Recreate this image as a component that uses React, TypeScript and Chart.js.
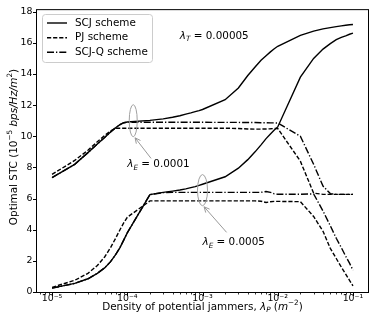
import React, { useEffect, useRef } from "react";
import { Chart, registerables } from "chart.js";

Chart.register(...registerables);

const FONT = '"DejaVu Sans", sans-serif';

// Density of potential jammers (lambda_P)
const densities = [
  1e-5, 2e-5, 3e-5, 4e-5, 5e-5, 6e-5, 7e-5, 8e-5, 9e-5,
  1e-4, 2e-4, 3e-4, 4e-4, 5e-4, 6e-4, 7e-4, 8e-4, 9e-4,
  1e-3, 2e-3, 3e-3, 4e-3, 5e-3, 6e-3, 7e-3, 8e-3, 9e-3,
  1e-2, 2e-2, 3e-2, 4e-2, 5e-2, 6e-2, 7e-2, 8e-2, 9e-2,
  1e-1,
];

// lambda_E = 0.0001
const scjE1 = [
  7.35, 8.2, 8.95, 9.5, 9.92, 10.27, 10.55, 10.75, 10.87,
  10.92, 11.02, 11.12, 11.22, 11.32, 11.42, 11.5, 11.58, 11.65,
  11.72, 12.35, 13.1, 13.9, 14.45, 14.88, 15.17, 15.42, 15.62,
  15.78, 16.48, 16.75, 16.9, 16.98, 17.04, 17.09, 17.13, 17.16,
  17.18,
];
const pjE1 = [
  7.55, 8.45, 9.1, 9.65, 10.05, 10.35, 10.52, 10.52, 10.52,
  10.52, 10.52, 10.52, 10.52, 10.52, 10.52, 10.52, 10.52, 10.52,
  10.52, 10.52, 10.5, 10.47, 10.46, 10.46, 10.47, 10.48, 10.5,
  10.5, 8.4, 6.35, 6.27, 6.27, 6.27, 6.27, 6.27, 6.27,
  6.27,
];
const scjqE1 = [
  7.35, 8.2, 8.95, 9.5, 9.92, 10.27, 10.55, 10.75, 10.87,
  10.9, 10.9, 10.9, 10.9, 10.9, 10.9, 10.9, 10.9, 10.9,
  10.9, 10.89, 10.89, 10.88, 10.88, 10.87, 10.87, 10.86, 10.86,
  10.85, 10.0, 8.2, 6.8, 6.32, 6.27, 6.27, 6.27, 6.27,
  6.27,
];

// lambda_E = 0.0005
const scjE5 = [
  0.25, 0.55, 0.85, 1.2, 1.55, 1.95, 2.4, 2.85, 3.35,
  3.8, 6.25, 6.4, 6.48, 6.55, 6.62, 6.7, 6.77, 6.85,
  6.92, 7.4, 7.95, 8.5, 9.0, 9.45, 9.85, 10.15, 10.4,
  10.6, 13.8, 15.0, 15.6, 15.95, 16.2, 16.35, 16.45, 16.55,
  16.62,
];
const pjE5 = [
  0.3, 0.75, 1.2, 1.7, 2.25, 2.85, 3.45, 4.0, 4.45,
  4.8, 5.85, 5.85, 5.85, 5.85, 5.85, 5.85, 5.85, 5.85,
  5.85, 5.85, 5.85, 5.85, 5.85, 5.83, 5.75, 5.8, 5.82,
  5.82, 5.8, 4.85, 3.9, 2.8, 2.15, 1.6, 1.15, 0.75,
  0.4,
];
const scjqE5 = [
  0.25, 0.55, 0.85, 1.2, 1.55, 1.95, 2.4, 2.85, 3.35,
  3.8, 6.25, 6.38, 6.4, 6.4, 6.4, 6.4, 6.4, 6.4,
  6.4, 6.4, 6.4, 6.4, 6.4, 6.4, 6.45, 6.4, 6.3,
  6.28, 6.28, 6.3, 5.2, 4.25, 3.45, 2.85, 2.3, 1.85,
  1.4,
];

const seriesNames = ["SCJ scheme", "PJ scheme", "SCJ-Q scheme"];
const xTickValues = [1e-5, 1e-4, 1e-3, 1e-2, 1e-1];
const xTickLabels = ["10\u207B\u2075", "10\u207B\u2074", "10\u207B\u00B3", "10\u207B\u00B2", "10\u207B\u00B9"];
const yTickValues = [0, 2, 4, 6, 8, 10, 12, 14, 16, 18];

const SOLID: number[] = [];
const DASHED = [4.2, 1.9];
const DASHDOT = [7, 2, 1.3, 2];
const LW = 1.4;

type Seg = { t: string; it?: boolean; s?: "sub" | "sup" };

function segFont(seg: Seg, size: number) {
  const sz = seg.s ? size * 0.7 : size;
  return `${seg.it ? "italic " : ""}${sz}px ${FONT}`;
}
function richWidth(ctx: CanvasRenderingContext2D, segs: Seg[], size: number) {
  let w = 0;
  for (const s of segs) {
    ctx.font = segFont(s, size);
    w += ctx.measureText(s.t).width;
  }
  return w;
}
function drawRich(ctx: CanvasRenderingContext2D, segs: Seg[], x: number, y: number, size: number, align: "left" | "center") {
  let cx = align === "center" ? x - richWidth(ctx, segs, size) / 2 : x;
  ctx.textBaseline = "alphabetic";
  ctx.textAlign = "left";
  for (const s of segs) {
    ctx.font = segFont(s, size);
    const dy = s.s === "sub" ? size * 0.22 : s.s === "sup" ? -size * 0.4 : 0;
    ctx.fillText(s.t, cx, y + dy);
    cx += ctx.measureText(s.t).width;
  }
}

const annotations = [
  { sym: "T", value: "0.00005", x: 5e-4, y: 16.25 },
  { sym: "E", value: "0.0001", x: 1e-4, y: 8.0 },
  { sym: "E", value: "0.0005", x: 1e-3, y: 3.0 },
];
const ellipses = [
  { x: 1.2e-4, y: 11.0, rx: 4, ry: 1.03 },
  { x: 1e-3, y: 6.54, rx: 5, ry: 1.0 },
];
const arrows = [
  { x0: 2.07e-4, y0: 8.58, x1: 1.27e-4, y1: 9.9 },
  { x0: 2.09e-3, y0: 3.83, x1: 1.05e-3, y1: 5.47 },
];

const overlay = {
  id: "overlay",
  afterDraw(chart: any) {
    const { ctx, chartArea: a, scales } = chart;
    const xs = scales.x;
    const ys = scales.y;
    ctx.save();
    // frame
    ctx.strokeStyle = "#000";
    ctx.lineWidth = 1;
    ctx.setLineDash([]);
    ctx.strokeRect(a.left - 0.5, a.top - 0.5, a.right - a.left + 1, a.bottom - a.top + 1);
    // ticks
    ctx.beginPath();
    for (const v of yTickValues) {
      const py = Math.round(ys.getPixelForValue(v)) + 0.5;
      ctx.moveTo(a.left - 0.5, py);
      ctx.lineTo(a.left - 4, py);
    }
    for (const v of xTickValues) {
      const px = Math.round(xs.getPixelForValue(v)) + 0.5;
      ctx.moveTo(px, a.bottom + 0.5);
      ctx.lineTo(px, a.bottom + 4);
    }
    ctx.stroke();
    ctx.beginPath();
    ctx.lineWidth = 0.8;
    for (let k = -6; k <= -1; k++) {
      for (let m = 2; m <= 9; m++) {
        const v = m * Math.pow(10, k);
        if (v < xs.min || v > xs.max) continue;
        const px = Math.round(xs.getPixelForValue(v)) + 0.5;
        ctx.moveTo(px, a.bottom + 0.5);
        ctx.lineTo(px, a.bottom + 2.5);
      }
    }
    ctx.stroke();

    // ellipses
    ctx.strokeStyle = "#a0a0a0";
    ctx.lineWidth = 1;
    for (const e of ellipses) {
      const cx = xs.getPixelForValue(e.x);
      const cy = ys.getPixelForValue(e.y);
      const ry = Math.abs(ys.getPixelForValue(e.y + e.ry) - cy);
      ctx.beginPath();
      ctx.ellipse(cx, cy, e.rx, ry, 0, 0, Math.PI * 2);
      ctx.stroke();
    }
    // arrows
    ctx.strokeStyle = "#999";
    for (const ar of arrows) {
      const x0 = xs.getPixelForValue(ar.x0);
      const y0 = ys.getPixelForValue(ar.y0);
      const x1 = xs.getPixelForValue(ar.x1);
      const y1 = ys.getPixelForValue(ar.y1);
      const ang = Math.atan2(y1 - y0, x1 - x0);
      ctx.beginPath();
      ctx.moveTo(x0, y0);
      ctx.lineTo(x1, y1);
      for (const d of [0.45, -0.45]) {
        ctx.moveTo(x1, y1);
        ctx.lineTo(x1 - 6 * Math.cos(ang + d), y1 - 6 * Math.sin(ang + d));
      }
      ctx.stroke();
    }
    // annotation texts
    ctx.fillStyle = "#000";
    for (const t of annotations) {
      const px = xs.getPixelForValue(t.x);
      const py = ys.getPixelForValue(t.y);
      drawRich(ctx, [{ t: "\u03BB", it: true }, { t: t.sym, it: true, s: "sub" }, { t: " = " + t.value }], px, py, 10.4, "left");
    }

    // legend
    const lx = 42.5, ly = 14.5, lw = 110, lh = 48;
    ctx.beginPath();
    ctx.roundRect(lx, ly, lw, lh, 3);
    ctx.fillStyle = "rgba(255,255,255,0.8)";
    ctx.fill();
    ctx.strokeStyle = "#cccccc";
    ctx.lineWidth = 1;
    ctx.stroke();
    const dashes = [SOLID, DASHED, DASHDOT];
    const rows = [23, 37.7, 52.3];
    for (let i = 0; i < 3; i++) {
      ctx.beginPath();
      ctx.setLineDash(dashes[i]);
      ctx.strokeStyle = "#000";
      ctx.lineWidth = LW;
      ctx.moveTo(47, rows[i]);
      ctx.lineTo(67, rows[i]);
      ctx.stroke();
      ctx.setLineDash([]);
      ctx.fillStyle = "#000";
      ctx.font = `10.4px ${FONT}`;
      ctx.textAlign = "left";
      ctx.textBaseline = "middle";
      ctx.fillText(seriesNames[i], 75, rows[i]);
    }

    // axis titles
    ctx.fillStyle = "#000";
    drawRich(
      ctx,
      [
        { t: "Density of potential jammers, " },
        { t: "\u03BB", it: true },
        { t: "P", it: true, s: "sub" },
        { t: " (" },
        { t: "m", it: true },
        { t: "\u22122", s: "sup" },
        { t: ")" },
      ],
      (a.left + a.right) / 2,
      309.5,
      10.4,
      "center"
    );
    ctx.save();
    ctx.translate(16.5, 147);
    ctx.rotate(-Math.PI / 2);
    drawRich(
      ctx,
      [
        { t: "Optimal STC (" },
        { t: "10" },
        { t: "\u22125", s: "sup" },
        { t: " " },
        { t: "bps/Hz/m", it: true },
        { t: "2", s: "sup" },
        { t: ")" },
      ],
      0,
      0,
      10.4,
      "center"
    );
    ctx.restore();
    ctx.restore();
  },
};

function mk(values: number[], dash: number[]) {
  return {
    data: densities.map((d, i) => ({ x: d, y: values[i] })),
    borderColor: "#000",
    backgroundColor: "#000",
    borderWidth: LW,
    borderDash: dash,
    pointRadius: 0,
    tension: 0,
    fill: false,
  };
}

export default function App() {
  const ref = useRef<HTMLCanvasElement>(null);
  useEffect(() => {
    const chart = new Chart(ref.current as HTMLCanvasElement, {
      type: "line",
      data: {
        datasets: [
          mk(scjE1, SOLID),
          mk(pjE1, DASHED),
          mk(scjqE1, DASHDOT),
          mk(scjE5, SOLID),
          mk(pjE5, DASHED),
          mk(scjqE5, DASHDOT),
        ] as any,
      },
      options: {
        animation: false,
        responsive: false,
        devicePixelRatio: 1,
        layout: { padding: { left: 0, top: 7, right: 6, bottom: 0 } },
        plugins: { legend: { display: false }, tooltip: { enabled: false } },
        scales: {
          x: {
            type: "logarithmic",
            min: Math.pow(10, -5.2),
            max: Math.pow(10, -0.8),
            grid: { display: false, drawTicks: false, tickLength: 0 },
            border: { display: false },
            ticks: {
              color: "#000",
              font: { family: FONT, size: 9.4 },
              padding: 0.5,
              maxRotation: 0,
              autoSkip: false,
              callback: (_v: any, i: number) => xTickLabels[i],
            },
            afterBuildTicks: (s: any) => {
              s.ticks = xTickValues.map((v) => ({ value: v }));
            },
            afterFit: (s: any) => {
              s.height = 34;
            },
          },
          y: {
            min: 0,
            max: 18.1,
            grid: { display: false, drawTicks: false, tickLength: 0 },
            border: { display: false },
            ticks: {
              color: "#000",
              font: { family: FONT, size: 9.4 },
              padding: 4.5,
              autoSkip: false,
              callback: (v: any) => String(v),
            },
            afterBuildTicks: (s: any) => {
              s.ticks = yTickValues.map((v) => ({ value: v }));
            },
            afterFit: (s: any) => {
              s.width = 37;
            },
          },
        },
      } as any,
      plugins: [overlay],
    });
    return () => chart.destroy();
  }, []);
  return (
    <div style={{ position: "fixed", left: 0, top: 0, width: 374, height: 326, background: "#fff" }}>
      <canvas ref={ref} width={374} height={326} style={{ display: "block", width: 374, height: 326 }} />
    </div>
  );
}
